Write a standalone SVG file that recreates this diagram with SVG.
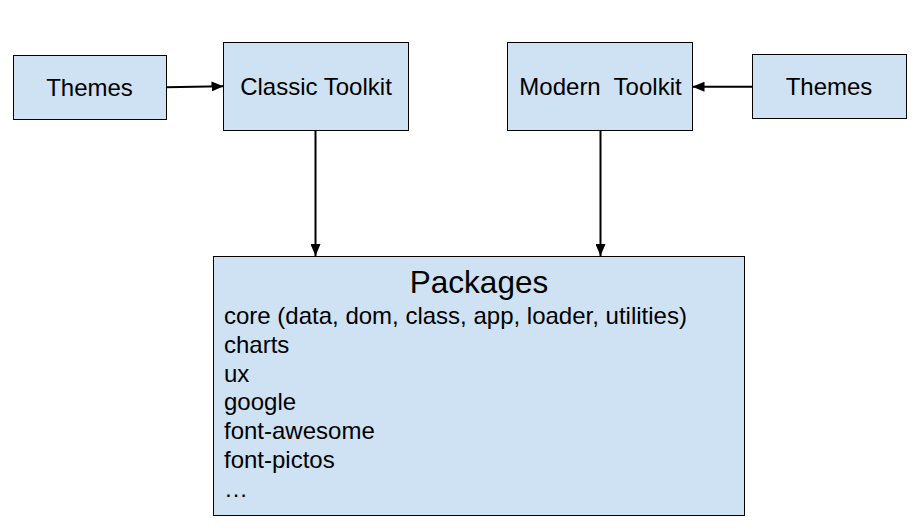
<svg xmlns="http://www.w3.org/2000/svg" width="924" height="530" viewBox="0 0 924 530">
  <style>
    .box { fill: #cfe2f3; stroke: #000; stroke-width: 1; }
    .lbl { font-family: "Liberation Sans", Arial, sans-serif; font-size: 24px; fill: #000; }
    .mid { text-anchor: middle; }
    .title { font-family: "Liberation Sans", Arial, sans-serif; font-size: 31.5px; fill: #000; text-anchor: middle; }
    .edge { stroke: #000; stroke-width: 2; fill: none; marker-end: url(#arrow); }
  </style>
  <defs>
    <marker id="arrow" markerUnits="userSpaceOnUse" markerWidth="12" markerHeight="10" refX="12" refY="5" orient="auto">
      <path d="M0,0 L12,5 L0,10 Z" fill="#000"/>
    </marker>
  </defs>

  <g id="themes-left">
    <rect class="box" x="13.5" y="55.5" width="153" height="64"/>
    <text class="lbl mid" x="89.5" y="95.5">Themes</text>
  </g>

  <g id="classic-toolkit">
    <rect class="box" x="223.5" y="42.5" width="185" height="88"/>
    <text class="lbl mid" x="316" y="95">Classic Toolkit</text>
  </g>

  <g id="modern-toolkit">
    <rect class="box" x="507.5" y="42.5" width="185" height="88"/>
    <text class="lbl mid" x="600.5" y="95" xml:space="preserve">Modern  Toolkit</text>
  </g>

  <g id="themes-right">
    <rect class="box" x="752.5" y="54.5" width="154" height="64"/>
    <text class="lbl mid" x="829" y="95">Themes</text>
  </g>

  <g id="packages">
    <rect class="box" x="213.5" y="256.5" width="531" height="259"/>
    <text class="title" x="479" y="292.5">Packages</text>
    <text class="lbl" x="224" y="324">core (data, dom, class, app, loader, utilities)</text>
    <text class="lbl" x="224" y="353">charts</text>
    <text class="lbl" x="224" y="382">ux</text>
    <text class="lbl" x="224" y="410">google</text>
    <text class="lbl" x="224" y="439">font-awesome</text>
    <text class="lbl" x="224" y="468">font-pictos</text>
    <text class="lbl" x="224" y="497">…</text>
  </g>

  <g id="connectors">
    <line class="edge" x1="166" y1="87.3" x2="223.5" y2="86.3"/>
    <line class="edge" x1="752" y1="86.7" x2="692.5" y2="86.7"/>
    <line class="edge" x1="315.5" y1="130.5" x2="315.5" y2="256"/>
    <line class="edge" x1="600.5" y1="130.5" x2="600.5" y2="256"/>
  </g>
</svg>
